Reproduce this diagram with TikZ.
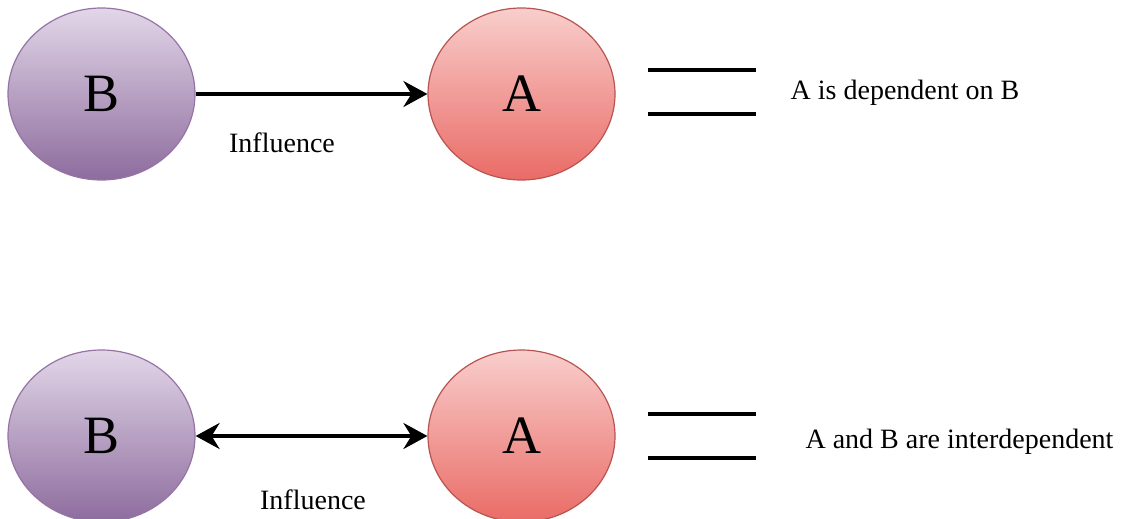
\documentclass[tikz,border=0pt]{standalone}
\usepackage{fontspec}
\setmainfont{Liberation Serif}
\usetikzlibrary{shapes.geometric,arrows.meta}
\tikzset{
  blob/.style={ellipse, minimum width=187pt, minimum height=172pt, inner sep=0pt,
    line width=1.2pt, font=\fontsize{54pt}{60pt}\selectfont},
  bnode/.style={blob, draw={rgb,255:red,150;green,115;blue,166},
    top color={rgb,255:red,226;green,214;blue,232}, bottom color={rgb,255:red,141;green,108;blue,158}},
  anode/.style={blob, draw={rgb,255:red,184;green,84;blue,80},
    top color={rgb,255:red,248;green,206;blue,204}, bottom color={rgb,255:red,234;green,107;blue,102}},
  link/.style={line width=3.6pt, black},
  flowtip/.tip={Stealth[length=24pt, width=26pt, inset=8pt]},
  eqbar/.style={line width=4pt, black},
  label/.style={font=\fontsize{28pt}{32pt}\selectfont, inner sep=0pt}
}
\begin{document}
\begin{tikzpicture}[x=1pt, y=-1pt]
  \useasboundingbox (0,0) rectangle (1125,519);

  % one-way dependence
  \node[bnode] (b1) at (101.5,94) {B};
  \node[anode] (a1) at (521.5,94) {A};
  \draw[link, -flowtip] (b1) -- (a1);
  \node[label] (inf1) at (282,143) {Influence};
  \coordinate (e1l) at (648,70);  \coordinate (e1r) at (756,70);
  \coordinate (e2l) at (648,114); \coordinate (e2r) at (756,114);
  \draw[eqbar] (e1l) -- (e1r);
  \draw[eqbar] (e2l) -- (e2r);
  \node[label] (t1) at (905,93) {A is dependent on B};

  % mutual dependence
  \node[bnode] (b2) at (101.5,436) {B};
  \node[anode] (a2) at (521.5,436) {A};
  \draw[link, flowtip-flowtip] (b2) -- (a2);
  \node[label] (inf2) at (313,500) {Influence};
  \coordinate (e3l) at (648,414); \coordinate (e3r) at (756,414);
  \coordinate (e4l) at (648,458); \coordinate (e4r) at (756,458);
  \draw[eqbar] (e3l) -- (e3r);
  \draw[eqbar] (e4l) -- (e4r);
  \node[label] (t2) at (959.5,442) {A and B are interdependent};
\end{tikzpicture}
\end{document}
